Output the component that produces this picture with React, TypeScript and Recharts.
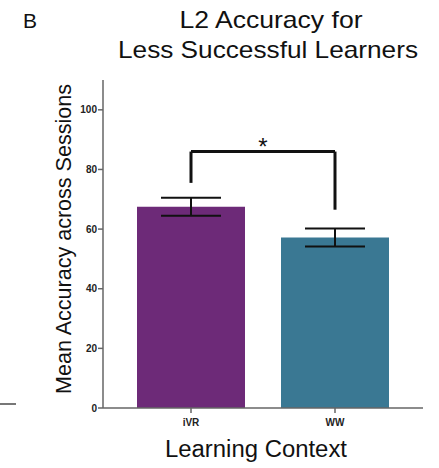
import React from "react";
import {
  ComposedChart,
  Bar,
  Cell,
  XAxis,
  YAxis,
  ErrorBar,
  ReferenceLine,
} from "recharts";

const contexts = ["iVR", "WW"];
const meanAccuracy = [67.5, 57.2];
const sem = [3, 3];
const barColors = ["#6d2a78", "#3a7893"];
const yTicks = [0, 20, 40, 60, 80, 100];
const bracketTop = 86;
const bracketLegs = [75.5, 66.5];
const titleLines = ["L2 Accuracy for", "Less Successful Learners"];

const data = contexts.map((c, i) => ({
  context: c,
  accuracy: meanAccuracy[i],
  err: sem[i],
}));

const font = "'Liberation Sans', Arial, Helvetica, sans-serif";

// y label, stretched a little to match the source figure
const YLabel = () => (
  <text
    x={63}
    y={239}
    transform="rotate(-90, 63, 239)"
    textAnchor="middle"
    dominantBaseline="central"
    fontSize={22}
    fill="#111"
    textLength={310}
    lengthAdjust="spacingAndGlyphs"
  >
    Mean Accuracy across Sessions
  </text>
);

const XLabel = () => (
  <text
    x={256}
    y={457}
    textAnchor="middle"
    fontSize={23}
    fill="#111"
    textLength={182}
    lengthAdjust="spacingAndGlyphs"
  >
    Learning Context
  </text>
);

export default function App() {
  return (
    <div
      style={{
        position: "absolute",
        left: 0,
        top: 0,
        width: 439,
        height: 468,
        background: "#fff",
        fontFamily: font,
      }}
    >
      <svg
        width={439}
        height={80}
        style={{ position: "absolute", left: 0, top: 0, fontFamily: font }}
      >
        <text x={23} y={28} fontSize={21} fill="#111">
          B
        </text>
        <text
          x={271}
          y={28}
          textAnchor="middle"
          fontSize={24}
          fill="#111"
          textLength={183}
          lengthAdjust="spacingAndGlyphs"
        >
          {titleLines[0]}
        </text>
        <text
          x={268}
          y={58}
          textAnchor="middle"
          fontSize={24}
          fill="#111"
          textLength={300}
          lengthAdjust="spacingAndGlyphs"
        >
          {titleLines[1]}
        </text>
      </svg>
      {/* stray rule at the left edge */}
      <div
        style={{
          position: "absolute",
          left: 0,
          top: 403,
          width: 16,
          height: 2,
          background: "#777",
        }}
      />
      <ComposedChart
        width={439}
        height={468}
        data={data}
        margin={{ top: 80, right: 16, bottom: 0, left: 0 }}
        style={{ fontFamily: font }}
      >
        <YAxis
          type="number"
          domain={[0, 110]}
          ticks={yTicks}
          width={103}
          tickSize={5}
          tickMargin={1}
          axisLine={{ stroke: "#666", strokeWidth: 1.5 }}
          tickLine={{ stroke: "#666", strokeWidth: 1.5 }}
          tick={{ fill: "#222", fontSize: 10, fontWeight: 700 }}
          label={<YLabel />}
        />
        <XAxis
          dataKey="context"
          height={60}
          padding={{ left: 16, right: 16 }}
          tickSize={5}
          tickMargin={6}
          axisLine={{ stroke: "#666", strokeWidth: 1.5 }}
          tickLine={{ stroke: "#666", strokeWidth: 1.5 }}
          tick={{ fill: "#222", fontSize: 10, fontWeight: 700 }}
          label={<XLabel />}
        />
        <Bar dataKey="accuracy" barSize={108} isAnimationActive={false}>
          {data.map((d, i) => (
            <Cell key={d.context} fill={barColors[i]} />
          ))}
          <ErrorBar
            dataKey="err"
            width={30}
            stroke="#111"
            strokeWidth={2}
            direction="y"
          />
        </Bar>
        <ReferenceLine
          segment={[
            { x: contexts[0], y: bracketTop },
            { x: contexts[1], y: bracketTop },
          ]}
          stroke="#111"
          strokeWidth={3}
          label={{ value: "*", position: "top", fill: "#111", fontSize: 24, offset: -3 }}
        />
        <ReferenceLine
          segment={[
            { x: contexts[0], y: bracketLegs[0] },
            { x: contexts[0], y: bracketTop },
          ]}
          stroke="#111"
          strokeWidth={3}
        />
        <ReferenceLine
          segment={[
            { x: contexts[1], y: bracketLegs[1] },
            { x: contexts[1], y: bracketTop },
          ]}
          stroke="#111"
          strokeWidth={3}
        />
      </ComposedChart>
    </div>
  );
}
